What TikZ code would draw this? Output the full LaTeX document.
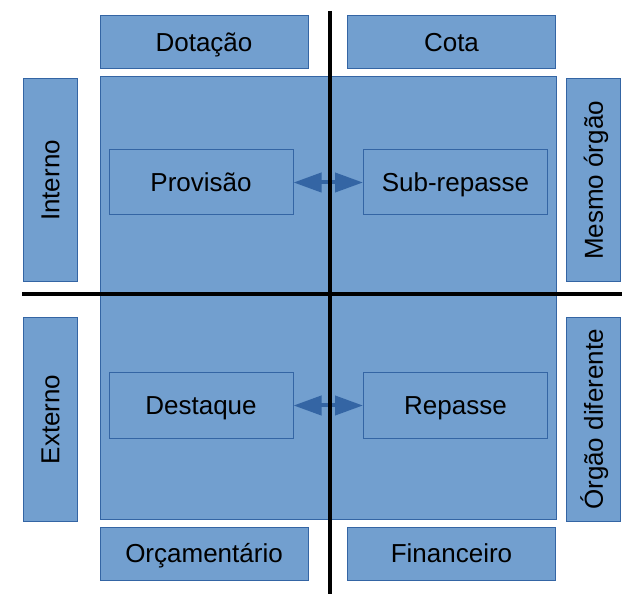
\documentclass[tikz,border=0pt]{standalone}
\usepackage{fontspec}
\setmainfont{Liberation Sans}
\usetikzlibrary{arrows.meta}
\definecolor{boxblue}{HTML}{729FCF}
\definecolor{boxedge}{HTML}{3465A4}

\begin{document}
\begin{tikzpicture}[x=1pt, y=-1pt,
	box/.style={draw=boxedge, fill=boxblue, line width=1pt, inner sep=0pt,
		text height=18.6pt, text depth=0pt,
		font=\fontsize{26}{30}\selectfont},
	topbox/.style={box, minimum width=208pt, minimum height=53pt},
	sidebox/.style={box, rotate=90, minimum width=203pt, minimum height=54pt},
	innerbox/.style={box, minimum width=184pt, minimum height=65pt},
	seta/.style={draw=boxedge, line width=4pt,
		{Triangle[length=28pt,width=19pt]}-{Triangle[length=28pt,width=19pt]}},
	eixo/.style={line width=4pt}]
	\useasboundingbox (0,0) rectangle (638,604);
	%%%%% START %%%%%
	\node[box, minimum width=456pt, minimum height=442pt] (quadro) at (328, 298) {};
	
	\node[topbox] (dotacao) at (204, 42.5) {Dotação};
	\node[topbox] (cota) at (451.5, 42.5) {Cota};
	\node[topbox] (orcamentario) at (204, 553.5) {Orçamentário};
	\node[topbox] (financeiro) at (451.5, 553.5) {Financeiro};
	
	\node[sidebox] (interno) at (50, 180.5) {Interno};
	\node[sidebox] (externo) at (50, 419.5) {Externo};
	\node[sidebox] (mesmo) at (593.5, 180.5) {Mesmo órgão};
	\node[sidebox] (diferente) at (593.5, 419.5) {Órgão diferente};
	
	\node[innerbox] (provisao) at (201, 182.5) {Provisão};
	\node[innerbox] (subrepasse) at (455.5, 182.5) {Sub-repasse};
	\node[innerbox] (destaque) at (201, 405.5) {Destaque};
	\node[innerbox] (repasse) at (455.5, 405.5) {Repasse};
	
	\draw[seta] (provisao.east) -- (subrepasse.west);
	\draw[seta] (destaque.east) -- (repasse.west);
	
	\draw[eixo] (330, 11) -- (330, 594);
	\draw[eixo] (22, 294) -- (622, 294);
	%%%%% END %%%%%
\end{tikzpicture}
\end{document}
